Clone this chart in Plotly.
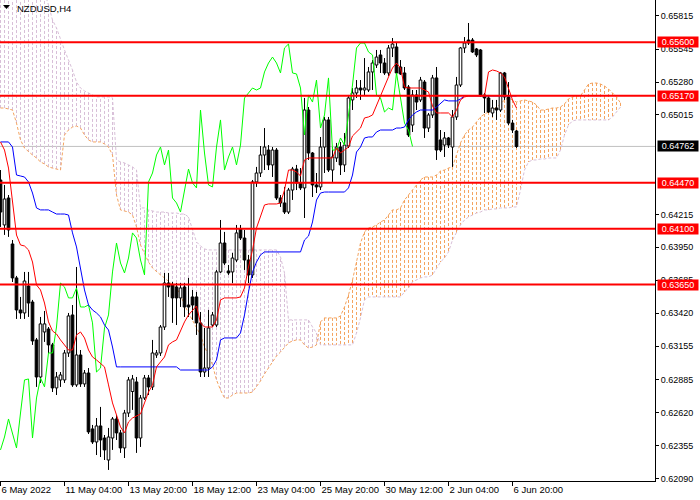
import plotly.graph_objects as go

# ---------------- data (NZDUSD H4) ----------------
opens = [
    0.64492, 0.64130, 0.64347, 0.63977, 0.63704, 0.63446, 0.63422, 0.63639, 0.63510, 0.63205,
    0.62907, 0.63269, 0.63293, 0.63165, 0.62819, 0.62883, 0.62883, 0.63100, 0.63406, 0.62843,
    0.63084, 0.62851, 0.62939, 0.62489, 0.62384, 0.62513, 0.62416, 0.62239, 0.62416, 0.62569,
    0.62457, 0.62336, 0.62617, 0.62790, 0.62867, 0.62416, 0.62738, 0.62899, 0.62827, 0.63084,
    0.63100, 0.63309, 0.63663, 0.63647, 0.63631, 0.63543, 0.63631, 0.63486, 0.63551, 0.63551,
    0.63342, 0.62947, 0.62979, 0.63325, 0.63325, 0.63752, 0.63985, 0.63760, 0.63752, 0.63848,
    0.64098, 0.64025, 0.63848, 0.63728, 0.64476, 0.64548, 0.64693, 0.64733, 0.64613, 0.64733,
    0.64347, 0.64307, 0.64234, 0.64411, 0.64580, 0.64468, 0.64428, 0.65055, 0.64709, 0.64452,
    0.64436, 0.64757, 0.64975, 0.64572, 0.64669, 0.64757, 0.64613, 0.64765, 0.65136, 0.65192,
    0.65232, 0.65216, 0.65216, 0.65361, 0.65417, 0.65498, 0.65433, 0.65353, 0.65554, 0.65562,
    0.65401, 0.65353, 0.65240, 0.64934, 0.65176, 0.65136, 0.65280, 0.64910, 0.65015, 0.65313,
    0.64814, 0.64773, 0.64830, 0.64757, 0.64999, 0.65256, 0.65554, 0.65618, 0.65618, 0.65546,
    0.65538, 0.65176, 0.65152, 0.65031, 0.65071, 0.65055, 0.65353, 0.65160, 0.64950, 0.64886,
]
highs = [
    0.64572, 0.64452, 0.64371, 0.64009, 0.63720, 0.63551, 0.63752, 0.63752, 0.63527, 0.63221,
    0.63390, 0.63438, 0.63309, 0.63181, 0.62947, 0.62947, 0.63124, 0.63422, 0.63486, 0.63792,
    0.63124, 0.62963, 0.62979, 0.62521, 0.62577, 0.62666, 0.62440, 0.62497, 0.62585, 0.62601,
    0.62481, 0.62642, 0.62907, 0.62923, 0.62907, 0.62762, 0.62923, 0.62923, 0.63205, 0.63124,
    0.63325, 0.63744, 0.63744, 0.63671, 0.63663, 0.63663, 0.63663, 0.63704, 0.63607, 0.63591,
    0.63430, 0.63301, 0.63446, 0.63430, 0.63768, 0.64170, 0.64074, 0.63808, 0.63905, 0.64130,
    0.64130, 0.64090, 0.63889, 0.64492, 0.64597, 0.64765, 0.64910, 0.64773, 0.64757, 0.64749,
    0.64371, 0.64436, 0.64428, 0.64597, 0.64613, 0.64588, 0.65152, 0.65079, 0.64717, 0.64548,
    0.64838, 0.64999, 0.64999, 0.64757, 0.64790, 0.64798, 0.64870, 0.65176, 0.65232, 0.65296,
    0.65296, 0.65473, 0.65401, 0.65457, 0.65538, 0.65538, 0.65473, 0.65578, 0.65634, 0.65594,
    0.65457, 0.65401, 0.65256, 0.65216, 0.65216, 0.65321, 0.65296, 0.65031, 0.65337, 0.65401,
    0.64894, 0.64878, 0.64838, 0.65055, 0.65321, 0.65562, 0.65642, 0.65755, 0.65634, 0.65554,
    0.65546, 0.65192, 0.65176, 0.65136, 0.65136, 0.65361, 0.65361, 0.65280, 0.64975, 0.64894,
]
lows = [
    0.64114, 0.64050, 0.64034, 0.63671, 0.63374, 0.63374, 0.63374, 0.63390, 0.63165, 0.62827,
    0.62859, 0.63189, 0.63100, 0.62786, 0.62762, 0.62827, 0.62859, 0.63068, 0.62827, 0.62827,
    0.62827, 0.62827, 0.62448, 0.62368, 0.62279, 0.62263, 0.62239, 0.62159, 0.62320, 0.62400,
    0.62296, 0.62255, 0.62585, 0.62642, 0.62296, 0.62344, 0.62722, 0.62762, 0.62802, 0.63060,
    0.63076, 0.63285, 0.63551, 0.63342, 0.63325, 0.63470, 0.63390, 0.63390, 0.63366, 0.63245,
    0.62907, 0.62907, 0.62907, 0.63309, 0.63309, 0.63744, 0.63808, 0.63728, 0.63663, 0.63832,
    0.64009, 0.63768, 0.63663, 0.63704, 0.64436, 0.64516, 0.64572, 0.64572, 0.64516, 0.64331,
    0.64275, 0.64218, 0.64218, 0.64331, 0.64411, 0.64411, 0.64186, 0.64653, 0.64355, 0.64387,
    0.64411, 0.64548, 0.64556, 0.64476, 0.64637, 0.64532, 0.64556, 0.64749, 0.65055, 0.65152,
    0.65136, 0.65176, 0.65200, 0.65216, 0.65393, 0.65353, 0.65337, 0.65329, 0.65481, 0.65337,
    0.65337, 0.65216, 0.64838, 0.64878, 0.65055, 0.65119, 0.64830, 0.64878, 0.64991, 0.64653,
    0.64717, 0.64677, 0.64749, 0.64597, 0.64975, 0.65240, 0.65514, 0.65578, 0.65514, 0.65481,
    0.65160, 0.65031, 0.65031, 0.64999, 0.64975, 0.65039, 0.65136, 0.64934, 0.64870, 0.64749,
]
closes = [
    0.64234, 0.64339, 0.64090, 0.63704, 0.63446, 0.63422, 0.63679, 0.63502, 0.63197, 0.62907,
    0.63334, 0.63334, 0.63165, 0.62819, 0.62907, 0.62923, 0.63100, 0.63398, 0.62843, 0.63084,
    0.62851, 0.62939, 0.62465, 0.62384, 0.62513, 0.62400, 0.62320, 0.62424, 0.62569, 0.62457,
    0.62336, 0.62617, 0.62883, 0.62891, 0.62416, 0.62738, 0.62899, 0.62827, 0.63100, 0.63100,
    0.63309, 0.63663, 0.63631, 0.63543, 0.63543, 0.63623, 0.63470, 0.63470, 0.63486, 0.63342,
    0.62947, 0.62979, 0.63301, 0.63406, 0.63752, 0.63985, 0.63824, 0.63744, 0.63864, 0.64066,
    0.64025, 0.63848, 0.63728, 0.64476, 0.64548, 0.64693, 0.64757, 0.64613, 0.64733, 0.64347,
    0.64307, 0.64234, 0.64411, 0.64580, 0.64468, 0.64428, 0.65055, 0.64709, 0.64452, 0.64436,
    0.64757, 0.64975, 0.64572, 0.64677, 0.64757, 0.64613, 0.64773, 0.65152, 0.65192, 0.65232,
    0.65216, 0.65232, 0.65361, 0.65433, 0.65481, 0.65433, 0.65353, 0.65554, 0.65586, 0.65353,
    0.65345, 0.65232, 0.64854, 0.65176, 0.65119, 0.65296, 0.64910, 0.65015, 0.65313, 0.64733,
    0.64733, 0.64830, 0.64773, 0.64999, 0.65256, 0.65554, 0.65594, 0.65594, 0.65522, 0.65498,
    0.65176, 0.65152, 0.65039, 0.65071, 0.65055, 0.65353, 0.65160, 0.64950, 0.64894, 0.64762,
]
tenkan = [
    0.64798, 0.64733, 0.64588, 0.64331, 0.64049, 0.63969, 0.63961, 0.63929, 0.63832, 0.63647,
    0.63607, 0.63502, 0.63350, 0.63277, 0.63253, 0.63205, 0.63165, 0.63124, 0.63124, 0.63245,
    0.63269, 0.63221, 0.63124, 0.63068, 0.63044, 0.63012, 0.62988, 0.62843, 0.62698, 0.62601,
    0.62505, 0.62457, 0.62545, 0.62577, 0.62593, 0.62609, 0.62698, 0.62786, 0.62843, 0.62988,
    0.63028, 0.63068, 0.63165, 0.63189, 0.63205, 0.63285, 0.63350, 0.63406, 0.63446, 0.63478,
    0.63342, 0.63309, 0.63309, 0.63309, 0.63366, 0.63527, 0.63543, 0.63543, 0.63543, 0.63543,
    0.63551, 0.63623, 0.63792, 0.63929, 0.64106, 0.64194, 0.64291, 0.64299, 0.64299, 0.64299,
    0.64307, 0.64411, 0.64572, 0.64572, 0.64556, 0.64524, 0.64653, 0.64669, 0.64669, 0.64669,
    0.64669, 0.64669, 0.64669, 0.64669, 0.64749, 0.64709, 0.64733, 0.64757, 0.64846, 0.64878,
    0.64910, 0.64991, 0.64999, 0.65015, 0.65095, 0.65168, 0.65248, 0.65321, 0.65393, 0.65433,
    0.65393, 0.65240, 0.65232, 0.65232, 0.65232, 0.65232, 0.65216, 0.65200, 0.65087, 0.65031,
    0.65031, 0.65031, 0.65031, 0.64999, 0.65055, 0.65136, 0.65160, 0.65168, 0.65168, 0.65168,
    0.65168, 0.65168, 0.65361, 0.65377, 0.65369, 0.65353, 0.65321, 0.65232, 0.65136, 0.65071,
]
kijun = [
    0.64798, 0.64798, 0.64798, 0.64757, 0.64532, 0.64524, 0.64516, 0.64476, 0.64387, 0.64267,
    0.64251, 0.64251, 0.64251, 0.64234, 0.64218, 0.64218, 0.64218, 0.64210, 0.64066, 0.63953,
    0.63768, 0.63607, 0.63486, 0.63446, 0.63422, 0.63390, 0.63325, 0.63285, 0.63148, 0.62988,
    0.62988, 0.62988, 0.62988, 0.62988, 0.62988, 0.62988, 0.62988, 0.62988, 0.62988, 0.62988,
    0.62988, 0.62988, 0.62988, 0.62988, 0.62988, 0.62963, 0.62963, 0.62963, 0.62963, 0.62963,
    0.62963, 0.62963, 0.62963, 0.62988, 0.63044, 0.63205, 0.63221, 0.63221, 0.63221, 0.63221,
    0.63261, 0.63406, 0.63591, 0.63752, 0.63832, 0.63889, 0.63913, 0.63913, 0.63913, 0.63913,
    0.63913, 0.63913, 0.63913, 0.63913, 0.63913, 0.63913, 0.64009, 0.64041, 0.64154, 0.64331,
    0.64387, 0.64395, 0.64395, 0.64395, 0.64395, 0.64395, 0.64395, 0.64428, 0.64532, 0.64717,
    0.64757, 0.64830, 0.64838, 0.64838, 0.64878, 0.64894, 0.64894, 0.64894, 0.64894, 0.64910,
    0.64910, 0.64918, 0.64975, 0.65015, 0.65039, 0.65055, 0.65055, 0.65055, 0.65055, 0.65079,
    0.65111, 0.65136, 0.65128, 0.65128, 0.65128, 0.65144, 0.65168, 0.65168, 0.65168, 0.65168,
    0.65168, 0.65168, 0.65168, 0.65168, 0.65168, 0.65168, 0.65168, 0.65168, 0.65168, 0.65168,
]
span_a = [
    0.65071, 0.65071, 0.65063, 0.65055, 0.64950, 0.64814, 0.64749, 0.64717, 0.64693, 0.64669,
    0.64637, 0.64621, 0.64597, 0.64588, 0.64580, 0.64572, 0.64854, 0.64894, 0.64918, 0.64926,
    0.64910, 0.64854, 0.64814, 0.64798, 0.64798, 0.64798, 0.64782, 0.64757, 0.64693, 0.64371,
    0.64251, 0.64243, 0.64234, 0.64210, 0.64114, 0.63969, 0.63905, 0.63832, 0.63784, 0.63752,
    0.63728, 0.63704, 0.63679, 0.63655, 0.63623, 0.63567, 0.63486, 0.63422, 0.63366, 0.63301,
    0.63245, 0.63148, 0.63084, 0.63004, 0.62883, 0.62802, 0.62738, 0.62738, 0.62762, 0.62778,
    0.62778, 0.62778, 0.62778, 0.62786, 0.62827, 0.62875, 0.62931, 0.62979, 0.63028, 0.63076,
    0.63108, 0.63148, 0.63181, 0.63197, 0.63205, 0.63205, 0.63165, 0.63140, 0.63148, 0.63165,
    0.63350, 0.63382, 0.63382, 0.63382, 0.63382, 0.63398, 0.63470, 0.63567, 0.63687, 0.63832,
    0.63985, 0.64074, 0.64106, 0.64114, 0.64130, 0.64154, 0.64170, 0.64210, 0.64251, 0.64251,
    0.64267, 0.64331, 0.64371, 0.64411, 0.64452, 0.64492, 0.64516, 0.64516, 0.64516, 0.64532,
    0.64564, 0.64572, 0.64588, 0.64597, 0.64693, 0.64790, 0.64854, 0.64894, 0.64918, 0.64959,
    0.64999, 0.65023, 0.65039, 0.65055, 0.65079, 0.65103, 0.65136, 0.65152, 0.65136, 0.65119,
    0.65128, 0.65136, 0.65128, 0.65119, 0.65095, 0.65055, 0.65055, 0.65063, 0.65071, 0.65071,
    0.65079, 0.65103, 0.65144, 0.65160, 0.65168, 0.65168, 0.65216, 0.65264, 0.65272, 0.65272,
    0.65264, 0.65248, 0.65224, 0.65192, 0.65160, 0.65111,
]
span_b = [
    0.66000, 0.66000, 0.66000, 0.66000, 0.66000, 0.66000, 0.66000, 0.66000, 0.66000, 0.66000,
    0.66000, 0.66000, 0.65900, 0.65779, 0.65715, 0.65618, 0.65538, 0.65457, 0.65377, 0.65280,
    0.65232, 0.65208, 0.65192, 0.65176, 0.65160, 0.65160, 0.65160, 0.65160, 0.65152, 0.64653,
    0.64637, 0.64629, 0.64613, 0.64597, 0.64572, 0.64267, 0.64267, 0.64251, 0.64243, 0.64234,
    0.64234, 0.64234, 0.64226, 0.64226, 0.64226, 0.64218, 0.64218, 0.64194, 0.64090, 0.63993,
    0.63961, 0.63937, 0.63929, 0.63929, 0.63929, 0.63929, 0.63929, 0.63929, 0.63929, 0.63929,
    0.63929, 0.63929, 0.63929, 0.63929, 0.63929, 0.63929, 0.63929, 0.63929, 0.63929, 0.63929,
    0.63872, 0.63744, 0.63366, 0.63366, 0.63366, 0.63366, 0.63366, 0.63366, 0.63309, 0.63261,
    0.63165, 0.63165, 0.63165, 0.63165, 0.63165, 0.63165, 0.63165, 0.63165, 0.63165, 0.63261,
    0.63382, 0.63527, 0.63551, 0.63551, 0.63551, 0.63551, 0.63551, 0.63551, 0.63551, 0.63551,
    0.63551, 0.63591, 0.63623, 0.63671, 0.63687, 0.63704, 0.63712, 0.63712, 0.63728, 0.63784,
    0.63832, 0.63864, 0.63913, 0.64009, 0.64066, 0.64130, 0.64170, 0.64194, 0.64210, 0.64226,
    0.64234, 0.64251, 0.64251, 0.64259, 0.64259, 0.64267, 0.64267, 0.64267, 0.64275, 0.64275,
    0.64411, 0.64572, 0.64637, 0.64653, 0.64653, 0.64661, 0.64661, 0.64669, 0.64669, 0.64669,
    0.64733, 0.64854, 0.64934, 0.64967, 0.64975, 0.64975, 0.64975, 0.64975, 0.64975, 0.64975,
    0.64975, 0.64975, 0.64975, 0.64999, 0.65039, 0.65079,
]
chikou_shift = 26
levels = [0.65600, 0.65170, 0.64470, 0.64100, 0.63650]
last_price = 0.64762
y_ticks = [0.62090, 0.62355, 0.62620, 0.62885, 0.63155, 0.63420, 0.63685, 0.63950,
           0.64215, 0.65015, 0.65280, 0.65545, 0.65815]
x_tick_bars = [0, 16, 32, 48, 64, 80, 96, 112, 128]
x_tick_labels = ["6 May 2022", "11 May 04:00", "13 May 20:00", "18 May 12:00",
                 "23 May 04:00", "25 May 20:00", "30 May 12:00", "2 Jun 04:00", "6 Jun 20:00"]
symbol_title = "NZDUSD,H4"

# ---------------- styles ----------------
FONT = "Liberation Sans, Arial, sans-serif"
SANDY = "#F4A460"
THISTLE = "#D8BFD8"
BODY_HALF = 0.33

fig = go.Figure()

# Kumo hatch (vertical dashed strokes per bar)
ox, oy, tx, ty = [], [], [], []
for i, (a, b) in enumerate(zip(span_a, span_b)):
    if a >= b:
        ox += [i, i, None]; oy += [a, b, None]
    else:
        tx += [i, i, None]; ty += [a, b, None]
fig.add_trace(go.Scatter(x=tx, y=ty, mode="lines",
                         line=dict(color=THISTLE, width=1, dash="3px,2px")))
fig.add_trace(go.Scatter(x=ox, y=oy, mode="lines",
                         line=dict(color=SANDY, width=1, dash="3px,2px")))
idx_cloud = list(range(len(span_a)))
fig.add_trace(go.Scatter(x=idx_cloud, y=span_b, mode="lines",
                         line=dict(color=THISTLE, width=1, dash="3px,2px")))
fig.add_trace(go.Scatter(x=idx_cloud, y=span_a, mode="lines",
                         line=dict(color=SANDY, width=1, dash="3px,2px")))

# Candles
n = len(closes)
wx, wy = [], []
ux, uy, dx, dy = [], [], [], []
for i in range(n):
    top = max(opens[i], closes[i])
    bot = min(opens[i], closes[i])
    wx += [i, i, None, i, i, None]
    wy += [highs[i], top, None, bot, lows[i], None]
    px = [i - BODY_HALF, i + BODY_HALF, i + BODY_HALF, i - BODY_HALF, i - BODY_HALF, None]
    py = [bot, bot, top, top, bot, None]
    if closes[i] >= opens[i]:
        ux += px; uy += py
    else:
        dx += px; dy += py
fig.add_trace(go.Scatter(x=wx, y=wy, mode="lines", line=dict(color="black", width=1)))
fig.add_trace(go.Scatter(x=ux, y=uy, mode="lines", fill="toself", fillcolor="white",
                         line=dict(color="black", width=1)))
fig.add_trace(go.Scatter(x=dx, y=dy, mode="lines", fill="toself", fillcolor="black",
                         line=dict(color="black", width=1)))

# Chikou, Tenkan, Kijun
fig.add_trace(go.Scatter(x=[i - chikou_shift for i in range(chikou_shift, n)],
                         y=closes[chikou_shift:], mode="lines",
                         line=dict(color="#00FF00", width=1)))
fig.add_trace(go.Scatter(x=list(range(n)), y=kijun, mode="lines",
                         line=dict(color="#0000FF", width=1)))
fig.add_trace(go.Scatter(x=list(range(n)), y=tenkan, mode="lines",
                         line=dict(color="#FF0000", width=1)))

shapes = [dict(type="line", xref="paper", x0=0, x1=1, yref="y", y0=last_price, y1=last_price,
               line=dict(color="#C0C0C0", width=1), layer="below")]
for lv in levels:
    shapes.append(dict(type="line", xref="paper", x0=0, x1=1, yref="y", y0=lv, y1=lv,
                       line=dict(color="#FF0000", width=2), layer="above"))
# small title triangle
shapes.append(dict(type="path", xref="paper", yref="paper",
                   path="M 0.0046 0.9895 L 0.0153 0.9895 L 0.0099 0.9815 Z",
                   fillcolor="black", line=dict(width=0)))

annotations = [dict(text=symbol_title, xref="paper", yref="paper", x=0.0225, y=1.0,
                    xanchor="left", yanchor="top", yshift=-1, showarrow=False,
                    font=dict(family=FONT, size=9.5, color="#000000"))]
for lv in levels:
    annotations.append(dict(text=f"{lv:.5f}", xref="paper", yref="y", x=1, y=lv,
                            xanchor="left", yanchor="middle", xshift=2, showarrow=False,
                            width=40, height=10, borderpad=0, bgcolor="#FF0000",
                            font=dict(family=FONT, size=9, color="white")))
annotations.append(dict(text=f"{last_price:.5f}", xref="paper", yref="y", x=1, y=last_price,
                        xanchor="left", yanchor="middle", xshift=2, showarrow=False,
                        width=40, height=10, borderpad=0, bgcolor="#000000",
                        font=dict(family=FONT, size=9, color="white")))

fig.update_layout(
    template="none",
    width=700, height=500,
    margin=dict(l=0, r=45, t=0, b=19, pad=0),
    paper_bgcolor="white", plot_bgcolor="white",
    showlegend=False, hovermode=False,
    shapes=shapes, annotations=annotations,
    xaxis=dict(range=[-0.125, 163.625], showgrid=False, zeroline=False,
               showline=True, linecolor="black", linewidth=1,
               ticks="outside", ticklen=4, tickcolor="black", tickwidth=1,
               tickvals=x_tick_bars, ticktext=x_tick_labels, tickangle=0,
               ticklabelposition="outside right",
               tickfont=dict(family=FONT, size=9.5, color="black"),
               fixedrange=True, automargin=False),
    yaxis=dict(range=[0.62070, 0.65940], side="right", showgrid=False, zeroline=False,
               showline=True, linecolor="black", linewidth=1,
               ticks="outside", ticklen=3, tickcolor="black", tickwidth=1,
               tickvals=y_ticks, ticktext=[f"{v:.5f}" for v in y_ticks],
               tickfont=dict(family=FONT, size=9, color="black"),
               fixedrange=True, automargin=False),
)

fig.write_html("out.html", config={"displayModeBar": False, "staticPlot": True},
               post_script="document.body.style.margin='0px';document.body.style.padding='0px';document.body.style.overflow='hidden';")
